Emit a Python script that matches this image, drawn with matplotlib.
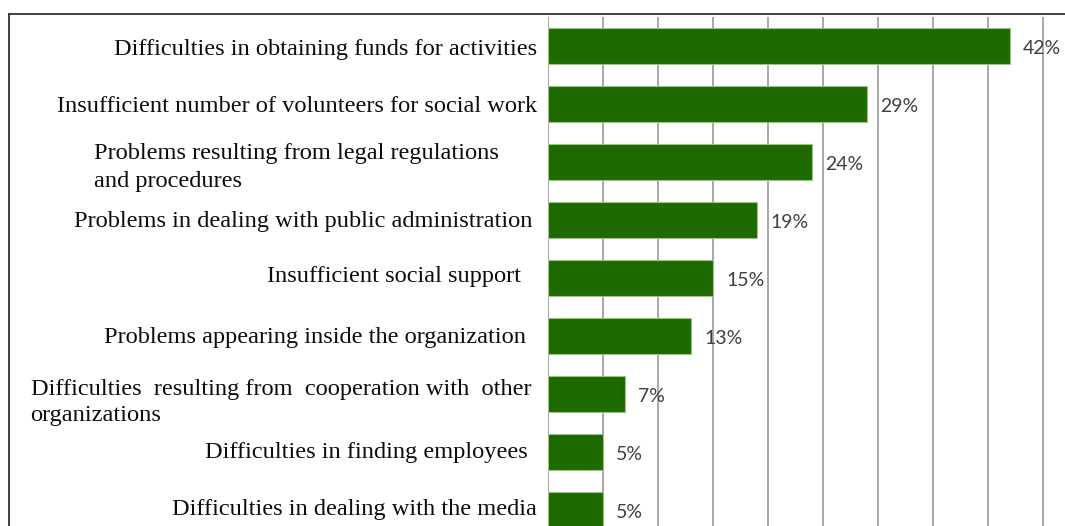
import matplotlib
matplotlib.use("Agg")
import matplotlib.pyplot as plt
from matplotlib.transforms import ScaledTranslation
from matplotlib.lines import Line2D

categories = [
    "Difficulties in obtaining funds for activities",
    "Insufficient number of volunteers for social work",
    "Problems resulting from legal regulations\nand procedures",
    "Problems in dealing with public administration",
    "Insufficient social support",
    "Problems appearing inside the organization",
    "Difficulties  resulting from  cooperation with  other\norganizations",
    "Difficulties in finding employees",
    "Difficulties in dealing with the media",
]
values = [42, 29, 24, 19, 15, 13, 7, 5, 5]
value_labels = ["42%", "29%", "24%", "19%", "15%", "13%", "7%", "5%", "5%"]
grid_ticks = [0, 5, 10, 15, 20, 25, 30, 35, 40, 45]

# label layout (pixels): gap from axis to right edge, first baseline below bar centre, line step
label_gap_px = [11, 11, 49, 16, 27, 22, 17, 20, 11]
label_base_px = [9, 8, -3, 7, 4, 7, 1, 6, 5]
label_step_px = [28, 28, 28, 28, 28, 28, 26, 28, 28]

W, H = 1065, 526
DPI = 100
fig = plt.figure(figsize=(W / DPI, H / DPI), dpi=DPI)
fig.patch.set_facecolor("white")

ax_left, ax_top = 548, 17
pitch = 58
n = len(categories)
ax = fig.add_axes([ax_left / W, (H - ax_top - n * pitch) / H, (W - ax_left) / W, n * pitch / H])
ax.set_xlim(0, 47)
ax.set_ylim(n - 0.5, -0.5)

ax.barh(range(n), values, height=0.62, color="#1e6a00", edgecolor="#9cc585", linewidth=0.8, zorder=3)

ax.set_xticks(grid_ticks)
ax.set_xticklabels([])
ax.grid(axis="x", color="#a8a8a8", linewidth=1.4, zorder=0)
ax.tick_params(left=False, bottom=False, labelleft=False, labelbottom=False)
for s in ax.spines.values():
    s.set_visible(False)

renderer = fig.canvas.get_renderer()
ytrans = ax.get_yaxis_transform()
font = dict(fontsize=17.6, family="Liberation Serif", color="#0d0d0d")
for i, cat in enumerate(categories):
    lines = cat.split("\n")
    gap, base, step = label_gap_px[i], label_base_px[i], label_step_px[i]
    tr = ytrans + ScaledTranslation(-gap / DPI, -base / DPI, fig.dpi_scale_trans)
    t0 = ax.text(0, i, lines[0], transform=tr, ha="right", va="baseline", **font)
    if len(lines) > 1:
        bb = t0.get_window_extent(renderer)
        axis_x = ax.transAxes.transform((0, 0))[0]
        dx = (bb.x0 - axis_x) / DPI
        for k, ln in enumerate(lines[1:], start=1):
            trk = ytrans + ScaledTranslation(dx, -(base + k * step) / DPI, fig.dpi_scale_trans)
            ax.text(0, i, ln, transform=trk, ha="left", va="baseline", **font)

for i, (v, lab) in enumerate(zip(values, value_labels)):
    tr = ax.transData + ScaledTranslation(13 / DPI, -2 / DPI, fig.dpi_scale_trans)
    ax.text(v, i, lab, transform=tr, ha="left", va="center", fontsize=14,
            family="Lato", color="#404040")

# outer frame
fig.add_artist(Line2D([9 / W, 1.0], [1 - 14 / H, 1 - 14 / H], transform=fig.transFigure,
                      color="#333333", linewidth=1.3))
fig.add_artist(Line2D([9 / W, 9 / W], [0, 1 - 14 / H], transform=fig.transFigure,
                      color="#333333", linewidth=1.3))

fig.savefig("out.png", dpi=DPI)
